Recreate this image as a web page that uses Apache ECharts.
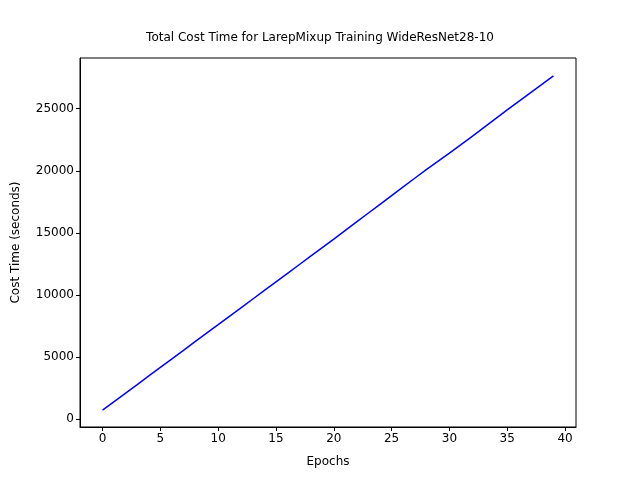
<!DOCTYPE html>
<html>
<head>
<meta charset="utf-8">
<script src="https://cdn.jsdelivr.net/npm/echarts@6/dist/echarts.min.js"></script>
<style>html,body{margin:0;padding:0;background:#fff}#c{width:640px;height:480px}</style>
</head>
<body>
<div id="c"></div>
<script>
var epochs = [];
for (var i = 0; i < 40; i++) epochs.push(i);
var costTime = [720, 1405, 2095, 2780, 3470, 4160, 4850, 5540, 6230, 6915,
  7600, 8290, 8980, 9670, 10360, 11050, 11740, 12430, 13120, 13810,
  14500, 15200, 15900, 16600, 17300, 18000, 18700, 19400, 20090, 20760,
  21420, 22100, 22790, 23500, 24200, 24900, 25590, 26280, 26960, 27640];
var xTicks = [0, 5, 10, 15, 20, 25, 30, 35, 40];
var yTicks = [0, 5000, 10000, 15000, 20000, 25000];

var chart = echarts.init(document.getElementById('c'));
var font = 'DejaVu Sans';
var axisCommon = {
  axisLine: { show: true, onZero: false, lineStyle: { color: '#000' } },
  splitLine: { show: false },
  nameTextStyle: { color: '#000', fontSize: 12, fontFamily: font }
};
chart.setOption({
  animation: false,
  title: {
    text: 'Total Cost Time for LarepMixup Training WideResNet28-10',
    left: 'center', top: 27,
    textStyle: { fontSize: 12, fontWeight: 'normal', color: '#000', fontFamily: font }
  },
  grid: { left: 80, right: 64, top: 58, bottom: 53, show: true, borderColor: '#000', borderWidth: 1 },
  xAxis: Object.assign({
    type: 'value', min: -1.95, max: 40.95,
    name: 'Epochs', nameLocation: 'middle', nameGap: 29,
    axisTick: { show: true, length: 4, customValues: xTicks, lineStyle: { color: '#000' } },
    axisLabel: { customValues: xTicks, color: '#000', fontSize: 12, fontFamily: font, margin: 6 }
  }, axisCommon),
  yAxis: Object.assign({
    type: 'value', min: -641, max: 29087,
    name: 'Cost Time (seconds)', nameLocation: 'middle', nameGap: 58,
    axisTick: { show: true, length: 4, customValues: yTicks, lineStyle: { color: '#000' } },
    axisLabel: { customValues: yTicks, formatter: function (v) { return String(v); },
      color: '#000', fontSize: 12, fontFamily: font, margin: 6 }
  }, axisCommon),
  series: [{
    type: 'line', showSymbol: false,
    data: epochs.map(function (e, i) { return [e, costTime[i]]; }),
    lineStyle: { color: '#0000ff', width: 1.5 }
  }]
});
</script>
</body>
</html>
